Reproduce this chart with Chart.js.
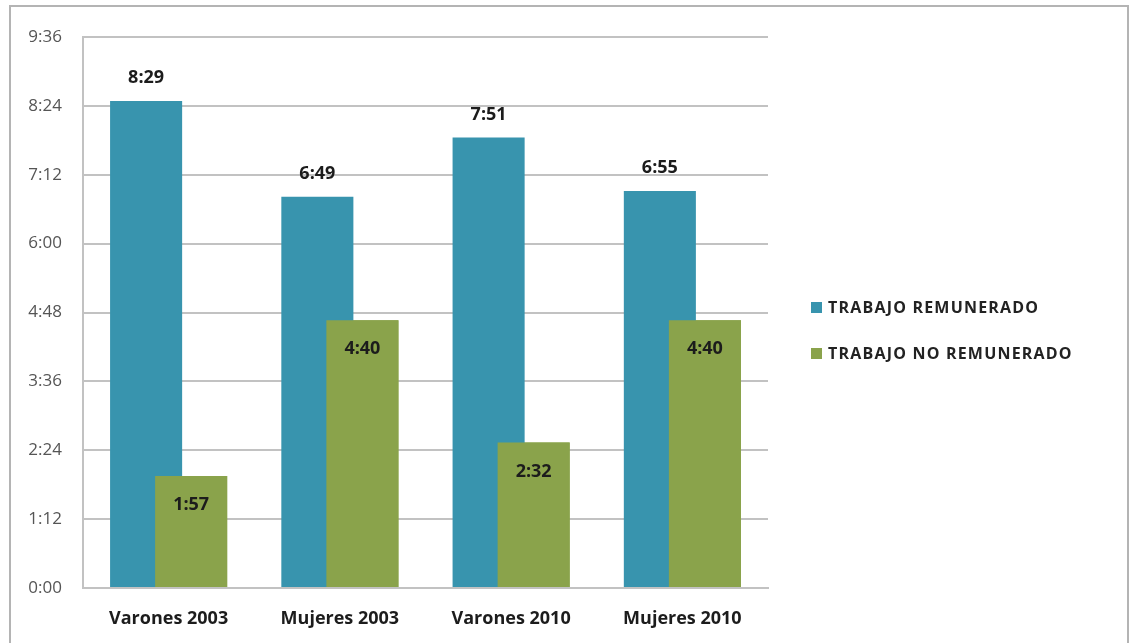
<!DOCTYPE html>
<html lang="es">
<head>
  <meta charset="UTF-8" />
  <title>Trabajo remunerado y no remunerado</title>
  <script src="https://cdn.jsdelivr.net/npm/chart.js"></script>
  <style>
    body {
      margin: 0;
      background: #ffffff;
      font-family: 'Open Sans', sans-serif;
    }
    .frame {
      position: absolute;
      left: 9px;
      top: 5px;
      width: 1116px;
      height: 660px;
      border: 2px solid #b4b4b4;
    }
    #chartBox {
      position: absolute;
      left: 0;
      top: 0;
      width: 1129px;
      height: 643px;
    }
    .legend {
      position: absolute;
      left: 811px;
      top: 295px;
    }
    .legend div {
      font-weight: bold;
      font-size: 16px;
      letter-spacing: 1.2px;
      color: #222;
      height: 24px;
      line-height: 24px;
      margin-bottom: 22px;
      white-space: nowrap;
    }
    .legend span {
      display: inline-block;
      width: 11px;
      height: 11px;
      margin-right: 6px;
      vertical-align: 0px;
    }
  </style>
</head>
<body>
  <div class="frame"></div>
  <div id="chartBox"><canvas id="horas" width="1129" height="643"></canvas></div>
  <div class="legend" id="legend"></div>

  <script>
    // datos en minutos
    const categorias = ['Varones 2003', 'Mujeres 2003', 'Varones 2010', 'Mujeres 2010'];
    const remunerado = [509, 409, 471, 415];      // 8:29, 6:49, 7:51, 6:55
    const noRemunerado = [117, 280, 152, 280];    // 1:57, 4:40, 2:32, 4:40
    const series = ['TRABAJO REMUNERADO', 'TRABAJO NO REMUNERADO'];
    const colores = ['#3894ae', '#8aa34b'];

    function hhmm(min) {
      const h = Math.floor(min / 60);
      const m = min % 60;
      return h + ':' + (m < 10 ? '0' : '') + m;
    }

    // dibuja verde encima del azul y pone las etiquetas
    const etiquetas = {
      id: 'etiquetas',
      afterDatasetsDraw(chart) {
        chart.getDatasetMeta(1).controller.draw();
        const ctx = chart.ctx;
        ctx.save();
        ctx.font = "bold 18px 'Open Sans'";
        ctx.fillStyle = '#1c1c1c';
        ctx.textAlign = 'center';
        ctx.textBaseline = 'middle';
        chart.data.datasets.forEach((ds, i) => {
          chart.getDatasetMeta(i).data.forEach((bar, j) => {
            const y = i === 0 ? bar.y - 23 : bar.y + 29;
            ctx.fillText(hhmm(ds.data[j]), bar.x, y);
          });
        });
        ctx.restore();
      }
    };

    new Chart(document.getElementById('horas'), {
      type: 'bar',
      data: {
        labels: categorias,
        datasets: [
          { label: series[0], data: remunerado, backgroundColor: colores[0] },
          { label: series[1], data: noRemunerado, backgroundColor: colores[1] }
        ]
      },
      options: {
        responsive: false,
        animation: false,
        categoryPercentage: 0.526,
        barPercentage: 1.6,
        layout: { padding: { top: 37, right: 361, left: 0, bottom: 0 } },
        plugins: {
          legend: { display: false },
          tooltip: { enabled: false }
        },
        scales: {
          x: {
            grid: { display: false, drawTicks: false },
            border: { display: true, color: '#c2c2c2', width: 2 },
            ticks: {
              padding: 20,
              color: '#1c1c1c',
              font: { family: 'Open Sans', size: 18, weight: 'bold' }
            },
            afterFit(s) { s.height = 55; }
          },
          y: {
            min: 0,
            max: 576,
            grid: { color: '#c2c2c2', lineWidth: 2, drawTicks: false },
            border: { display: true, color: '#c2c2c2', width: 2 },
            ticks: {
              stepSize: 72,
              padding: 21,
              color: '#555',
              font: { family: 'Open Sans', size: 17 },
              callback: v => hhmm(v)
            },
            afterFit(s) { s.width = 83; }
          }
        }
      },
      plugins: [etiquetas]
    });

    document.getElementById('legend').innerHTML = series.map((s, i) =>
      `<div><span style="background:${colores[i]}"></span>${s}</div>`).join('');
  </script>
</body>
</html>
